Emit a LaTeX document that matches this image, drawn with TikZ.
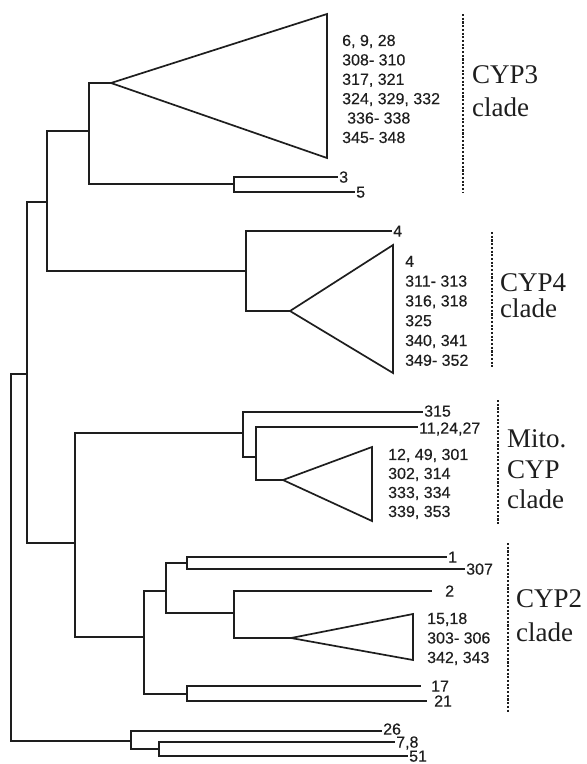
\documentclass[tikz,border=0pt]{standalone}
\usepackage{fontspec}
\setmainfont{Liberation Serif}
\setsansfont{Liberation Sans}
\newfontfamily\numfont[FakeBold=0.3]{Liberation Sans}
\usepackage{xcolor}
\usetikzlibrary{positioning,calc}
\definecolor{ink}{HTML}{1E1E1E}
\tikzset{
  br/.style   = {line width=1.7pt, draw=ink},
  tri/.style  = {br, line join=miter},
  tip/.style  = {anchor=west, inner xsep=1pt, inner ysep=0pt, text=ink, text height=11.2pt,
                 text depth=0pt, font=\numfont\fontsize{16}{19.5}\selectfont},
  lst/.style  = {anchor=north west, inner sep=0pt, align=left, text=ink,
                 font=\numfont\fontsize{16}{#1}\selectfont},
  cld/.style  = {anchor=north west, inner sep=0pt, align=left, text=ink,
                 font=\rmfamily\fontsize{27}{#1}\selectfont},
  sep/.style  = {draw=ink, line width=2.3pt, dash pattern=on 2.1pt off 1.6pt},
}

\begin{document}
\begin{tikzpicture}[x=1pt, y=-1pt]
  \useasboundingbox (0,0) rectangle (587,764);

  % internal nodes of the tree
  \coordinate (root) at (11,558);
  \coordinate (n1)  at (27,374);
  \coordinate (n2)  at (47,202);
  \coordinate (n3)  at (89,131);
  \coordinate (n4)  at (234,184);
  \coordinate (n5)  at (246,271);
  \coordinate (n6)  at (75,543);
  \coordinate (n7)  at (243,433);
  \coordinate (n8)  at (256,457);
  \coordinate (n9)  at (144,637);
  \coordinate (n10) at (166,591);
  \coordinate (n11) at (187,563);
  \coordinate (n12) at (234,613);
  \coordinate (n13) at (187,694);
  \coordinate (n14) at (131,741);
  \coordinate (n15) at (159,749);

  % collapsed clades (apex)
  \coordinate (a3) at (111,83);
  \coordinate (a4) at (290,311);
  \coordinate (aM) at (283,480);
  \coordinate (a2) at (291,638);

  % leaf tips
  \coordinate (t3)   at (338,177);
  \coordinate (t5)   at (355,192);
  \coordinate (t4)   at (392,231);
  \coordinate (t315) at (423,412);
  \coordinate (t11)  at (418,427);
  \coordinate (t1)   at (447,557);
  \coordinate (t307) at (465,569);
  \coordinate (t2)   at (432,591);
  \coordinate (t17)  at (421,686);
  \coordinate (t21)  at (427,701);
  \coordinate (t26)  at (382,731);
  \coordinate (t78)  at (395,742);
  \coordinate (t51)  at (408,756);

  % branches
  \draw[br] (root) |- (n1);  \draw[br] (root) |- (n14);
  \draw[br] (n1) |- (n2);    \draw[br] (n1) |- (n6);
  \draw[br] (n2) |- (n3);    \draw[br] (n2) |- (n5);
  \draw[br] (n3) |- (a3);    \draw[br] (n3) |- (n4);
  \draw[br] (n4) |- (t3);    \draw[br] (n4) |- (t5);
  \draw[br] (n5) |- (t4);    \draw[br] (n5) |- (a4);
  \draw[br] (n6) |- (n7);    \draw[br] (n6) |- (n9);
  \draw[br] (n7) |- (t315);  \draw[br] (n7) |- (n8);
  \draw[br] (n8) |- (t11);   \draw[br] (n8) |- (aM);
  \draw[br] (n9) |- (n10);   \draw[br] (n9) |- (n13);
  \draw[br] (n10) |- (n11);  \draw[br] (n10) |- (n12);
  \draw[br] (n11) |- (t1);   \draw[br] (n11) |- (t307);
  \draw[br] (n12) |- (t2);   \draw[br] (n12) |- (a2);
  \draw[br] (n13) |- (t17);  \draw[br] (n13) |- (t21);
  \draw[br] (n14) |- (t26);  \draw[br] (n14) |- (n15);
  \draw[br] (n15) |- (t78);  \draw[br] (n15) |- (t51);

  % triangles
  \draw[tri] (a3) -- (327,14)  -- (327,158) -- cycle;
  \draw[tri] (a4) -- (393,245) -- (393,373) -- cycle;
  \draw[tri] (aM) -- (372,447) -- (372,521) -- cycle;
  \draw[tri] (a2) -- (413,614) -- (413,660) -- cycle;

  % leaf labels
  \node[tip] (l3)   at (t3)   {3};
  \node[tip] (l5)   at (t5)   {5};
  \node[tip] (l4)   at (t4)   {4};
  \node[tip, yshift=1pt]  (l315) at (t315) {315};
  \node[tip, yshift=-1pt] (l11)  at (t11)  {11,24,27};
  \node[tip] (l1)   at (t1)   {1};
  \node[tip] (l307) at (t307) {307};
  \node[tip, xshift=12pt] (l2)  at (t2)  {2};
  \node[tip, xshift=9pt]  (l17) at (t17) {17};
  \node[tip, xshift=6pt]  (l21) at (t21) {21};
  \node[tip, yshift=2pt]  (l26) at (t26) {26};
  \node[tip] (l78)  at (t78)  {7,8};
  \node[tip] (l51)  at (t51)  {51};

  % member lists
  \node[lst=19.4] (m3) at (342,34.6)
       {6, 9, 28\\308- 310\\317, 321\\324, 329, 332\\\hspace*{5pt}336- 338\\345- 348};
  \node[lst=19.8] (m4) at (405,255.6)
       {4\\311- 313\\316, 318\\325\\340, 341\\349- 352};
  \node[lst=19] (mM) at (388,448.6)
       {12, 49, 301\\302, 314\\333, 334\\339, 353};
  \node[lst=19.5] (m2) at (427,612.6)
       {15,18\\303- 306\\342, 343};

  % clade brackets
  \coordinate (d3a) at (463,14);  \coordinate (d3b) at (463,192);
  \coordinate (d4a) at (492,232); \coordinate (d4b) at (492,367);
  \coordinate (dMa) at (498,400); \coordinate (dMb) at (498,525);
  \coordinate (d2a) at (508,543); \coordinate (d2b) at (508,713);
  \draw[sep] (d3a) -- (d3b);
  \draw[sep] (d4a) -- (d4b);
  \draw[sep] (dMa) -- (dMb);
  \draw[sep] (d2a) -- (d2b);

  \node[cld=33]   (c3) at (472,65.7)  {CYP3\\clade};
  \node[cld=26]   (c4) at (500,273.7) {CYP4\\clade};
  \node[cld=30.5] (cM) at (507,429.6) {Mito.\\CYP\\clade};
  \node[cld=34]   (c2) at (516,589.7) {CYP2\\clade};
\end{tikzpicture}
\end{document}
